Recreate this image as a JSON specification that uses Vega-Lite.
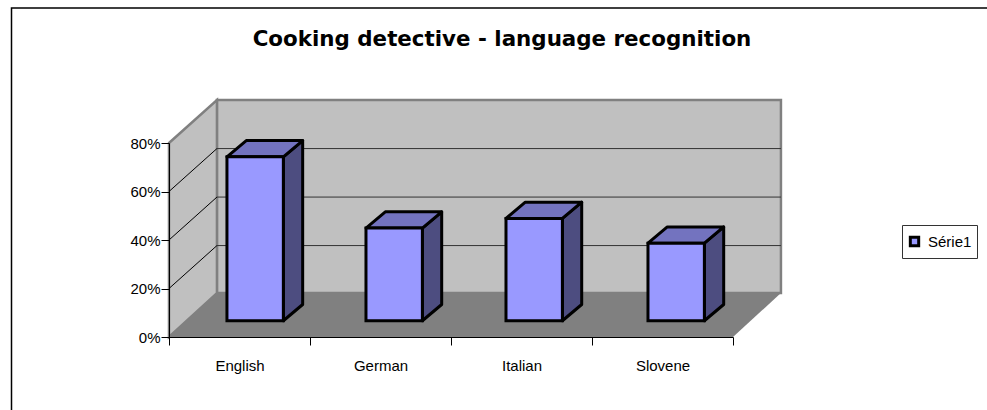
{
"$schema":"https://vega.github.io/schema/vega-lite/v6.json",
"autosize":{"type":"none"},
"width":564,"height":194,
"padding":{"left":169,"top":143,"right":254,"bottom":73},
"background":"white",
"config":{"view":{"stroke":null},"font":"Liberation Sans"},
"title":{"text":"Cooking detective - language recognition","font":"DejaVu Sans","fontSize":21.4,"fontWeight":"bold","color":"black","anchor":"middle","frame":"group","dx":51,"offset":-43},
"datasets":{
"bars":[{"category":"English","value":67.6,"series":"Série1"},{"category":"German","value":38.2,"series":"Série1"},{"category":"Italian","value":42.2,"series":"Série1"},{"category":"Slovene","value":32,"series":"Série1"}],
"frame":[{"a":-1.117,"b":7,"c":-40,"d":135.7}],
"backwall":[{"a":0.34,"b":4.34,"c":18.1,"d":97.7}],
"leftwall":[{"x":0,"y":80,"y2":0},{"x":0.34,"y":97.7,"y2":18.1}],
"floor":[{"x":0,"y":0,"y2":0},{"x":0.34,"y":18.1,"y2":0},{"x":4,"y":18.1,"y2":0},{"x":4.34,"y":18.1,"y2":18.1}],
"grid":[{"level":20},{"level":40},{"level":60}]
},
"layer":[
{"layer":[
{"data":{"name":"frame"},"mark":{"type":"rect","fill":"white","stroke":"black","strokeWidth":1.5},
 "encoding":{"x":{"field":"a","type":"quantitative","axis":null,"scale":{"domain":[0,4],"nice":false,"zero":false}},"x2":{"field":"b"},"y":{"field":"c","type":"quantitative","axis":{"values":[0,20,40,60,80],"title":null,"grid":false,"labelExpr":"datum.value+'%'","labelFont":"Liberation Sans","labelFontSize":15,"labelColor":"black","tickColor":"black","tickSize":8,"domainColor":"black","labelPadding":1,"domain":true,"zindex":1},"scale":{"domain":[0,80],"nice":false,"zero":false}},"y2":{"field":"d"}}},
{"data":{"name":"backwall"},"mark":{"type":"rect","fill":"#C0C0C0","stroke":"#808080","strokeWidth":2.5},
 "encoding":{"x":{"field":"a","type":"quantitative","axis":null},"x2":{"field":"b"},"y":{"field":"c","type":"quantitative"},"y2":{"field":"d"}}},
{"data":{"name":"leftwall"},"mark":{"type":"area","orient":"vertical","fill":"#C0C0C0","stroke":"#808080","strokeWidth":2.5},
 "encoding":{"x":{"field":"x","type":"quantitative","axis":null},"y":{"field":"y","type":"quantitative"},"y2":{"field":"y2"}}},
{"data":{"name":"floor"},"mark":{"type":"area","orient":"vertical","fill":"#808080"},
 "encoding":{"x":{"field":"x","type":"quantitative","axis":null},"y":{"field":"y","type":"quantitative"},"y2":{"field":"y2"}}},
{"data":{"name":"grid"},"transform":[{"calculate":"datum.level+17.7","as":"back"}],"mark":{"type":"rule","color":"#333333","strokeWidth":1},
 "encoding":{"x":{"datum":0.34,"type":"quantitative","axis":null},"x2":{"datum":4.34},"y":{"field":"back","type":"quantitative"}}},
{"data":{"name":"grid"},"transform":[{"calculate":"datum.level+17.7","as":"back"}],"mark":{"type":"rule","color":"black","strokeWidth":1},
 "encoding":{"x":{"datum":0,"type":"quantitative","axis":null},"x2":{"datum":0.34},"y":{"field":"level","type":"quantitative"},"y2":{"field":"back"}}},
{"data":{"name":"bars"},
 "transform":[
  {"calculate":"[0.411,1.397,2.39,3.397][indexof(['English','German','Italian','Slovene'],datum.category)]","as":"x0"},
  {"calculate":"datum.x0+0.4","as":"x1"},
  {"calculate":"datum.value+6.7","as":"topv"},
  {"calculate":"datum.value+13.4","as":"topb"}
 ],
 "layer":[
  {"transform":[{"calculate":"[0,1]","as":"t"},{"flatten":["t"]},
    {"calculate":"datum.x1+datum.t*0.137","as":"px"},
    {"calculate":"datum.t==0?datum.topv:datum.topb","as":"py"},
    {"calculate":"datum.t==0?6.7:13.4","as":"py2"}],
   "mark":{"type":"area","orient":"vertical","fill":"#4D4D80","stroke":"black","strokeWidth":3,"strokeJoin":"round"},
   "encoding":{"x":{"field":"px","type":"quantitative","axis":null},"y":{"field":"py","type":"quantitative"},"y2":{"field":"py2"},"detail":{"field":"category"}}},
  {"transform":[{"calculate":"[0,1,2,3]","as":"t"},{"flatten":["t"]},
    {"calculate":"datum.x0+[0,0.137,0.4,0.537][datum.t]","as":"px"},
    {"calculate":"datum.t==0?datum.topv:datum.topb","as":"py"},
    {"calculate":"datum.t==3?datum.topb:datum.topv","as":"py2"}],
   "mark":{"type":"area","orient":"vertical","fill":"#7373BF","stroke":"black","strokeWidth":3,"strokeJoin":"round"},
   "encoding":{"x":{"field":"px","type":"quantitative","axis":null},"y":{"field":"py","type":"quantitative"},"y2":{"field":"py2"},"detail":{"field":"category"}}},
  {"transform":[{"calculate":"6.7","as":"base"}],
   "mark":{"type":"rect","stroke":"black","strokeWidth":3},
   "encoding":{"x":{"field":"x0","type":"quantitative","axis":null},"x2":{"field":"x1"},"y":{"field":"topv","type":"quantitative"},"y2":{"field":"base"},
    "color":{"field":"series","type":"nominal","scale":{"domain":["Série1"],"range":["#9999FF"]},
     "legend":{"title":null,"orient":"none","legendX":733,"legendY":82,"symbolType":"square","symbolSize":70,"symbolStrokeColor":"black","symbolStrokeWidth":3,"labelFont":"Liberation Sans","labelFontSize":15,"labelColor":"black","strokeColor":"#333333","fillColor":"white","padding":5,"clipHeight":23,"labelOffset":6}}}}
 ]}
]},
{"data":{"name":"bars"},"mark":{"type":"bar","opacity":0},
 "encoding":{"x":{"field":"category","type":"nominal","sort":null,"title":null,
   "scale":{"paddingInner":0,"paddingOuter":0},
   "axis":{"tickBand":"extent","labelAngle":0,"labelFont":"Liberation Sans","labelFontSize":15,"labelColor":"black","labelPadding":13,"tickSize":8,"tickColor":"black","domainColor":"black","grid":false,"zindex":1}},
  "y":{"field":"value","type":"quantitative"}}}
],
"resolve":{"scale":{"x":"independent"}}
}
